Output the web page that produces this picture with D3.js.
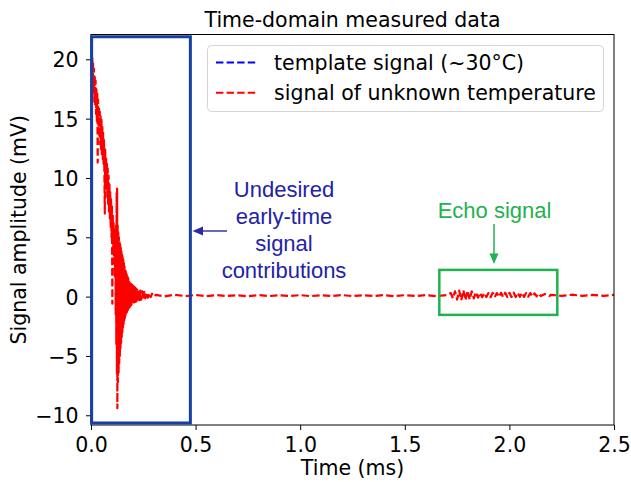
<!DOCTYPE html>
<html><head><meta charset="utf-8">
<script src="https://cdn.jsdelivr.net/npm/d3@7"></script>
<style>body{margin:0;background:#fff} svg{display:block}</style>
</head><body><svg id="c" width="631" height="482"></svg>
<script>
// ---------- data ----------
const xTicks = [0, 0.5, 1.0, 1.5, 2.0, 2.5];
const yTicks = [-10, -5, 0, 5, 10, 15, 20];
const seriesNames = ["template signal (~30°C)", "signal of unknown temperature"];
const seriesColors = ["#0000ff", "#ff0000"];
const templateSignal = []; // not visible in the reference
// signal of unknown temperature, [time ms, amplitude mV]
const decayPart = [
  [0.000,19.0],[0.002,20.5],[0.004,18.0],[0.006,20.2],[0.008,17.4],[0.010,19.8],[0.012,17.0],[0.014,19.2],
  [0.016,16.4],[0.018,18.6],[0.020,16.0],[0.022,18.2],[0.024,15.4],[0.026,17.6],[0.028,14.8],[0.030,17.2],
  [0.032,11.3],[0.034,16.6],[0.036,13.8],[0.038,16.0],[0.040,13.4],[0.042,15.6],[0.044,12.8],[0.046,15.2],
  [0.048,12.4],[0.050,14.9],[0.052,12.0],[0.054,14.4],[0.056,11.6],[0.058,13.8],[0.060,11.2],[0.062,13.2],
  [0.064,10.4],[0.066,7.0],[0.068,12.4],[0.070,9.8],[0.072,11.8],[0.074,9.0],[0.076,11.2],[0.078,8.4],
  [0.080,10.8],[0.082,7.8],[0.084,10.2],[0.086,7.0],[0.088,9.6],[0.090,6.6],[0.092,8.8],[0.094,5.8],
  [0.096,8.2],[0.098,5.0],[0.100,7.6],[0.102,-0.6],[0.104,7.0],[0.106,3.6],[0.108,6.2],[0.110,2.8],
  [0.112,5.6],[0.114,1.6],[0.116,5.0]
];
const ringPart = [
  [0.117,4.8],[0.118,-1.5],[0.1195,6.0],[0.121,-4.0],[0.1225,8.8],[0.124,-6.5],[0.125,9.1],[0.126,-9.4],
  [0.1275,6.0],[0.129,-7.2],[0.1305,5.4],[0.132,-6.4],[0.1335,5.0],[0.135,-5.6],[0.1365,4.7],[0.138,-5.0],
  [0.1395,4.4],[0.141,-4.4],[0.1425,4.1],[0.144,-3.9],[0.1455,3.8],[0.147,-3.4],[0.1485,3.6],[0.150,-3.0],
  [0.1515,3.3],[0.153,-2.6],[0.1545,3.1],[0.156,-2.3],[0.1575,2.8],[0.159,-2.0],[0.1605,2.5],[0.162,-1.8],
  [0.1635,2.3],[0.165,-1.6],[0.1665,2.1],[0.168,-1.4],[0.170,1.9],[0.172,-1.3],[0.174,1.7],[0.176,-1.15],
  [0.178,1.55],[0.180,-1.0],[0.182,1.4],[0.184,-0.9],[0.186,1.25],[0.188,-0.8],[0.190,1.1],[0.193,-0.7],
  [0.196,1.0],[0.199,-0.6],[0.202,0.9],[0.205,-0.5],[0.208,0.8],[0.211,-0.45],[0.214,0.7],[0.217,-0.4],
  [0.220,0.6],[0.224,-0.35],[0.228,0.55],[0.232,-0.3],[0.236,0.5],[0.240,-0.25],[0.245,0.45],[0.250,-0.2],
  [0.255,0.4],[0.260,-0.15],[0.266,0.35],[0.272,-0.1],[0.278,0.3],[0.285,-0.05],[0.292,0.25],[0.300,0.0]
];
const baselinePart = [
  [0.31,0.14],[0.35,0.02],[0.40,0.16],[0.45,0.04],[0.50,0.14],[0.55,0.03],[0.60,0.13],[0.65,0.05],
  [0.70,0.12],[0.75,0.03],[0.80,0.13],[0.85,0.04],[0.90,0.12],[0.95,0.05],[1.00,0.13],[1.05,0.04],
  [1.10,0.12],[1.15,0.05],[1.20,0.13],[1.25,0.04],[1.30,0.12],[1.35,0.05],[1.40,0.13],[1.45,0.04],
  [1.50,0.12],[1.55,0.05],[1.60,0.13],[1.65,0.04],[1.70,0.13]
];
const echoPart = [
  [1.72,0.30],[1.73,-0.15],[1.74,0.45],[1.75,-0.25],[1.76,0.50],[1.77,-0.30],[1.78,0.55],[1.79,-0.30],
  [1.80,0.50],[1.81,-0.25],[1.82,0.45],[1.83,-0.15],[1.84,0.38],[1.85,-0.08],[1.86,0.32],[1.87,-0.05],
  [1.88,0.30],[1.89,-0.04],[1.90,0.30],[1.91,-0.05],[1.92,0.32],[1.93,-0.04],[1.94,0.30],[1.95,-0.03],
  [1.96,0.32],[1.97,-0.05],[1.98,0.33],[1.99,-0.04],[2.00,0.32],[2.01,-0.03],[2.02,0.34],[2.03,-0.04],
  [2.04,0.32],[2.05,-0.02],[2.06,0.33],[2.07,-0.03],[2.08,0.30],[2.09,0.00],[2.10,0.30],[2.11,0.01],
  [2.12,0.28],[2.13,0.03],[2.14,0.26],[2.15,0.05],[2.17,0.22],[2.19,0.06]
];
const tailPart = [
  [2.20,0.15],[2.25,0.07],[2.30,0.16],[2.35,0.06],[2.40,0.15],[2.45,0.07],[2.50,0.14]
];
const unknownSignal = decayPart.concat(ringPart, baselinePart, echoPart, tailPart);

// annotation regions in data units [t0, t1, v0, v1]
const earlyBox = [0.003, 0.475, -10.65, 21.9];
const echoBox = [1.665, 2.229, -1.54, 2.25];
const earlyLabel = ["Undesired", "early-time", "signal", "contributions"];
const echoLabel = "Echo signal";

// ---------- chart ----------
const M = {left: 91, right: 614, top: 34.5, bottom: 425};
const FONT = "'DejaVu Sans', sans-serif";
const ARIAL = "'Liberation Sans', Arial, sans-serif";
const FS = "20.5px";
const svg = d3.select("#c");
const x = d3.scaleLinear().domain([0, 2.5]).range([M.left, M.right]);
const y = d3.scaleLinear().domain([-10.82, 22.09]).range([M.bottom, M.top]);

svg.append("defs").append("clipPath").attr("id", "clip")
  .append("rect").attr("x", M.left).attr("y", M.top)
  .attr("width", M.right - M.left).attr("height", M.bottom - M.top);

const line = d3.line().x(d => x(d[0])).y(d => y(d[1]));
const plot = svg.append("g").attr("clip-path", "url(#clip)");
if (templateSignal.length) plot.append("path").attr("d", line(templateSignal))
  .attr("fill", "none").attr("stroke", seriesColors[0]).attr("stroke-width", 2).attr("stroke-dasharray", "7.4,3.2");
plot.append("path").attr("d", line(unknownSignal))
  .attr("fill", "none").attr("stroke", seriesColors[1]).attr("stroke-width", 2.2)
  .attr("stroke-dasharray", "7.4,3.2").attr("stroke-linejoin", "round");

// axes
const fmt = d3.format(".1f");
const gx = svg.append("g").attr("transform", `translate(0,${M.bottom})`)
  .call(d3.axisBottom(x).tickValues(xTicks).tickFormat(fmt).tickSize(5).tickSizeOuter(0));
gx.selectAll("text").attr("y", 26.7).attr("dy", null);
const gy = svg.append("g").attr("transform", `translate(${M.left},0)`)
  .call(d3.axisLeft(y).tickValues(yTicks).tickFormat(d3.format("d")).tickSize(5).tickSizeOuter(0));
gy.selectAll("text").attr("x", -12.5).attr("dy", "0.36em");
[gx, gy].forEach(g => {
  g.select(".domain").remove();
  g.selectAll("line").attr("stroke", "#000").attr("stroke-width", 1);
  g.selectAll("text").attr("fill", "#000").style("font-family", FONT).style("font-size", FS);
});
svg.append("rect").attr("x", M.left).attr("y", M.top)
  .attr("width", M.right - M.left).attr("height", M.bottom - M.top)
  .attr("fill", "none").attr("stroke", "#000").attr("stroke-width", 1);

// labels
svg.append("text").attr("x", (M.left + M.right) / 2).attr("y", 26.5).attr("text-anchor", "middle")
  .style("font-family", FONT).style("font-size", FS).text("Time-domain measured data");
svg.append("text").attr("x", (M.left + M.right) / 2).attr("y", 475).attr("text-anchor", "middle")
  .style("font-family", FONT).style("font-size", FS).text("Time (ms)");
svg.append("text").attr("transform", `translate(25.5,${(M.top + M.bottom) / 2}) rotate(-90)`)
  .attr("text-anchor", "middle")
  .style("font-family", FONT).style("font-size", FS).text("Signal amplitude (mV)");

// annotations
const blue = "#1440a8", textBlue = "#2222a8", green = "#1fb24f";
svg.append("rect").attr("x", x(earlyBox[0])).attr("y", y(earlyBox[3]))
  .attr("width", x(earlyBox[1]) - x(earlyBox[0])).attr("height", y(earlyBox[2]) - y(earlyBox[3]))
  .attr("fill", "none").attr("stroke", blue).attr("stroke-width", 3);
svg.append("rect").attr("x", x(echoBox[0])).attr("y", y(echoBox[3]))
  .attr("width", x(echoBox[1]) - x(echoBox[0])).attr("height", y(echoBox[2]) - y(echoBox[3]))
  .attr("fill", "none").attr("stroke", green).attr("stroke-width", 2.5);

earlyLabel.forEach((s, i) => {
  svg.append("text").attr("x", 284).attr("y", 197 + i * 27).attr("text-anchor", "middle")
    .attr("fill", textBlue).style("font-family", ARIAL).style("font-size", "22px").text(s);
});
// early arrow
svg.append("line").attr("x1", 227).attr("y1", 231).attr("x2", 200).attr("y2", 231)
  .attr("stroke", "#3434b0").attr("stroke-width", 1.5);
svg.append("path").attr("d", "M192.5,231 L203,226.5 L203,235.5 Z").attr("fill", "#2a2aa8");

svg.append("text").attr("x", 494.5).attr("y", 218).attr("text-anchor", "middle")
  .attr("fill", green).style("font-family", ARIAL).style("font-size", "22px").text(echoLabel);
svg.append("line").attr("x1", 494).attr("y1", 224).attr("x2", 494).attr("y2", 256)
  .attr("stroke", green).attr("stroke-width", 1.5);
svg.append("path").attr("d", "M494,264 L489.5,253.5 L498.5,253.5 Z").attr("fill", green);

// legend
const lg = svg.append("g");
lg.append("rect").attr("x", 207.5).attr("y", 45.5).attr("width", 396).attr("height", 66).attr("rx", 4)
  .attr("fill", "#fff").attr("fill-opacity", 0.8).attr("stroke", "#d4d4d4").attr("stroke-width", 1);
seriesNames.forEach((s, i) => {
  const yy = 62.5 + i * 30.2;
  lg.append("line").attr("x1", 216).attr("x2", 257.5).attr("y1", yy).attr("y2", yy)
    .attr("stroke", seriesColors[i]).attr("stroke-width", 2).attr("stroke-dasharray", "7.4,3.2");
  lg.append("text").attr("x", 274).attr("y", yy + 7).style("font-family", FONT).style("font-size", FS)
    .attr("fill", "#000").text(s);
});
</script></body></html>
